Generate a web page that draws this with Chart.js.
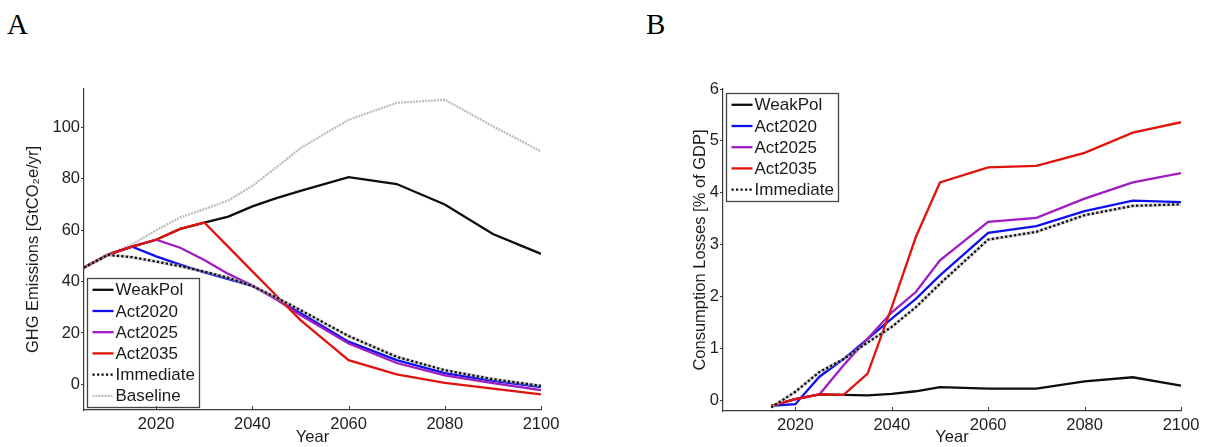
<!DOCTYPE html>
<html><head><meta charset="utf-8">
<script src="https://cdn.jsdelivr.net/npm/chart.js@4.4.1/dist/chart.umd.min.js"></script>
<style>
html,body{margin:0;padding:0;background:#fff;width:1205px;height:447px;overflow:hidden;}
#wrap{position:relative;width:1205px;height:447px;}
canvas{position:absolute;top:0;}
#cA{left:0;} #cB{left:620px;}
.lab{position:absolute;font-family:"Liberation Serif","DejaVu Serif",serif;font-size:29px;color:#000;line-height:1;}
</style></head><body>
<div id="wrap">
<div class="lab" style="left:7px;top:10px">A</div>
<div class="lab" style="left:646px;top:10px">B</div>
<canvas id="cA" width="620" height="447"></canvas>
<canvas id="cB" width="585" height="447"></canvas>
</div>
<script>
// ---- data ----
const years = [2005,2010,2015,2020,2025,2030,2035,2040,2045,2050,2060,2070,2080,2090,2100];
const seriesNames = ['WeakPol','Act2020','Act2025','Act2035','Immediate','Baseline'];

// Panel A: GHG emissions [GtCO2e/yr]
const ghgWeakPol   = [45.5,50.5,53.6,56.3,60.5,63.0,65.3,69.3,72.5,75.3,80.7,78.0,70.0,58.5,50.8];
const ghgAct2020   = [45.5,50.5,53.6,49.8,46.6,43.6,41.0,38.3,33.2,27.8,16.6,9.4,4.4,1.3,-1.1];
const ghgAct2025   = [45.5,50.5,53.6,56.3,53.2,48.4,43.0,38.5,33.0,27.0,15.9,8.3,3.5,0.5,-2.3];
const ghgAct2035   = [45.5,50.5,53.6,56.3,60.5,63.0,53.5,44.0,34.5,25.0,9.4,3.9,0.6,-1.7,-3.9];
const ghgImmediate = [45.5,50.4,49.5,47.8,46.0,43.9,41.5,38.3,33.8,28.9,18.8,10.7,5.5,2.0,-0.6];
const ghgBaseline  = [45.5,50.5,54.5,60.0,65.0,68.2,71.6,77.3,84.5,92.0,103.0,109.6,110.8,100.5,90.7];

// Panel B: consumption losses [% of GDP]
const lossWeakPol   = [null,null,-0.10,0.03,0.12,0.11,0.10,0.13,0.18,0.26,0.23,0.23,0.37,0.45,0.29];
const lossAct2020   = [null,null,-0.10,-0.07,0.46,0.80,1.19,1.58,1.96,2.41,3.23,3.36,3.65,3.85,3.82];
const lossAct2025   = [null,null,-0.10,0.03,0.12,0.68,1.19,1.70,2.09,2.70,3.44,3.52,3.89,4.20,4.38];
const lossAct2035   = [null,null,-0.10,0.03,0.12,0.11,0.52,1.80,3.15,4.20,4.49,4.52,4.77,5.16,5.36];
const lossImmediate = [null,null,-0.13,0.17,0.55,0.80,1.12,1.42,1.80,2.25,3.10,3.25,3.57,3.75,3.78];

// ticks
const xTicks  = [2020,2040,2060,2080,2100];
const yTicksA = [0,20,40,60,80,100];
const yTicksB = [0,1,2,3,4,5,6];

// ---- styles ----
const FONT = '"Liberation Sans", Arial, Helvetica, sans-serif';
Chart.defaults.font.family = FONT;
Chart.defaults.color = '#222';
const styles = {
  WeakPol:   {color:'#0d0d0d', dash:[],      order:4, halo:null},
  Act2020:   {color:'#1010ee', dash:[],      order:3, halo:null},
  Act2025:   {color:'#a01cc0', dash:[],      order:2, halo:null},
  Act2035:   {color:'#e0130d', dash:[],      order:1, halo:null},
  Immediate: {color:'#0d0d0d', dash:[2.2,2.3], order:0, halo:'rgba(170,170,170,0.55)'},
  Baseline:  {color:'#bdbdbd', dash:[2,1],   order:5, halo:null}
};

function mkDataset(name, vals){
  const s = styles[name];
  return {
    label: name,
    data: years.map((y,i)=>({x:y, y:vals[i]})).filter(p=>p.y!==null),
    borderColor: s.color, backgroundColor: s.color,
    borderDash: s.dash, borderWidth: 2.3, pointRadius: 0,
    tension: 0, fill: false, order: s.order, halo: s.halo
  };
}

// light grey halo under dotted line (as in the reference)
const haloPlugin = {
  id: 'haloPlugin',
  beforeDatasetDraw(chart, args){
    const ds = chart.data.datasets[args.index];
    if (!ds.halo) return;
    const meta = args.meta;
    const ctx = chart.ctx;
    ctx.save();
    ctx.beginPath();
    meta.data.forEach((p, i) => { if (i === 0) ctx.moveTo(p.x, p.y); else ctx.lineTo(p.x, p.y); });
    ctx.strokeStyle = ds.halo;
    ctx.lineWidth = 3.2;
    ctx.lineJoin = 'round';
    ctx.stroke();
    ctx.restore();
  }
};

const insideLegend = {
  id: 'insideLegend',
  afterDatasetsDraw(chart, args, opts){
    const {ctx, chartArea} = chart;
    const ds = chart.data.datasets;
    const rowH = 21.2, fs = 17;
    ctx.save();
    ctx.font = fs + 'px ' + FONT;
    let maxW = 0;
    ds.forEach(d => { maxW = Math.max(maxW, ctx.measureText(d.label).width); });
    const w = Math.round(29 + maxW + 4);
    const h = Math.round(ds.length * rowH + 1.5);
    const x0 = chartArea.left + 3.5;
    const y0 = opts.anchor === 'bottom' ? Math.round(chartArea.bottom - 3 - h) + 0.5 : Math.round(chartArea.top + 4) + 0.5;
    ctx.fillStyle = '#fff';
    ctx.fillRect(x0, y0, w, h);
    ctx.strokeStyle = '#444';
    ctx.lineWidth = 1.3;
    ctx.strokeRect(x0, y0, w, h);
    ds.forEach((d, i) => {
      const cy = y0 + 11.3 + i * rowH;
      ctx.beginPath();
      ctx.setLineDash(d.borderDash || []);
      ctx.strokeStyle = d.borderColor;
      ctx.lineWidth = 2.3;
      ctx.moveTo(x0 + 5, cy);
      ctx.lineTo(x0 + 26, cy);
      ctx.stroke();
      ctx.setLineDash([]);
      ctx.fillStyle = '#1a1a1a';
      ctx.textBaseline = 'middle';
      ctx.textAlign = 'left';
      ctx.fillText(d.label, x0 + 28, cy + 1);
    });
    ctx.restore();
  }
};

const innerXTicks = {
  id: 'innerXTicks',
  afterDraw(chart){
    const {ctx, chartArea} = chart;
    const s = chart.scales.x;
    ctx.save();
    ctx.strokeStyle = '#3a3a3a';
    ctx.lineWidth = 1;
    s.ticks.forEach(t => {
      const px = Math.round(s.getPixelForValue(t.value)) + 0.5;
      ctx.beginPath();
      ctx.moveTo(px, chartArea.bottom);
      ctx.lineTo(px, chartArea.bottom - 4);
      ctx.stroke();
    });
    ctx.restore();
  }
};

function makeChart(id, datasets, cfg){
  return new Chart(document.getElementById(id), {
    type: 'line',
    data: {datasets},
    plugins: [haloPlugin, insideLegend, innerXTicks],
    options: {
      responsive: false, animation: false, events: [],
      layout: {padding: {left: 0, right: cfg.padRight, top: 89, bottom: 0}},
      plugins: {legend: {display: false}, tooltip: {enabled: false},
                insideLegend: {anchor: cfg.legendAnchor}},
      scales: {
        x: {
          type: 'linear', min: 2005, max: 2100,
          afterBuildTicks: s => { s.ticks = xTicks.map(v => ({value: v})); },
          afterFit: s => { s.height = cfg.xH; s.paddingLeft = 0; s.paddingRight = 0; },
          grid: {drawOnChartArea: false, drawTicks: false},
          border: {display: true, color: '#3a3a3a', width: 1.2},
          ticks: {font: {size: 16.5}, color: '#1e1e1e', padding: 5, maxRotation: 0, autoSkip: false,
                  callback: v => String(v)},
          title: {display: true, text: 'Year', font: {size: 16.5}, color: '#1e1e1e', padding: {top: 0, bottom: 0}}
        },
        y: {
          type: 'linear', min: cfg.yMin, max: cfg.yMax,
          afterBuildTicks: s => { s.ticks = cfg.yTicks.map(v => ({value: v})); },
          afterFit: s => { s.width = cfg.yW; s.paddingTop = 0; s.paddingBottom = 0; },
          grid: {drawOnChartArea: false, drawTicks: true, tickLength: 3, color: '#3a3a3a'},
          border: {display: true, color: '#3a3a3a', width: 1.2},
          ticks: {font: {size: 16.5}, color: '#1e1e1e', padding: 1, autoSkip: false,
                  callback: v => String(v)},
          title: {display: true, text: cfg.yTitle, font: {size: 16.5}, color: '#1e1e1e',
                  padding: {top: cfg.yTitlePad, bottom: 0}}
        }
      }
    }
  });
}

makeChart('cA', [
  mkDataset('WeakPol', ghgWeakPol),
  mkDataset('Act2020', ghgAct2020),
  mkDataset('Act2025', ghgAct2025),
  mkDataset('Act2035', ghgAct2035),
  mkDataset('Immediate', ghgImmediate),
  mkDataset('Baseline', ghgBaseline)
], {padRight: 79, xH: 37, yW: 84, yMin: -10, yMax: 115, yTicks: yTicksA,
    yTitle: 'GHG Emissions [GtCO\u2082e/yr]', yTitlePad: 24, legendAnchor: 'bottom'});

makeChart('cB', [
  mkDataset('WeakPol', lossWeakPol),
  mkDataset('Act2020', lossAct2020),
  mkDataset('Act2025', lossAct2025),
  mkDataset('Act2035', lossAct2035),
  mkDataset('Immediate', lossImmediate)
], {padRight: 24, xH: 36, yW: 103, yMin: -0.2, yMax: 6, yTicks: yTicksB,
    yTitle: 'Consumption Losses [% of GDP]', yTitlePad: 71, legendAnchor: 'top'});
</script>
</body></html>
